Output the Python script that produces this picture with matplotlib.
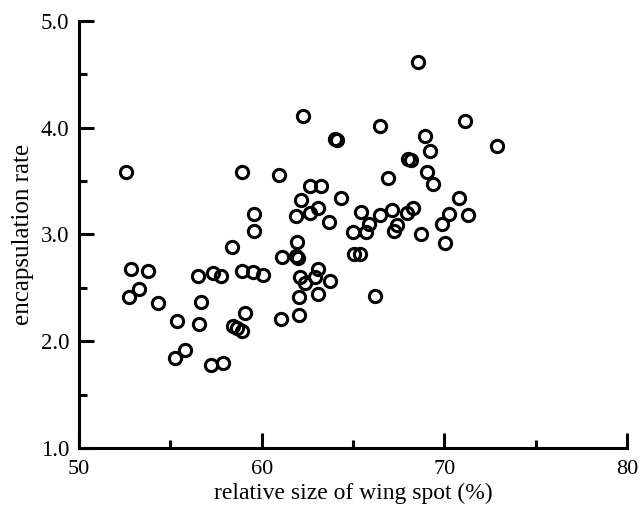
import numpy as np
import matplotlib
matplotlib.use("Agg")
import matplotlib.pyplot as plt
from matplotlib.ticker import MultipleLocator

# relative size of wing spot (%) vs encapsulation rate
spot_size = [
    52.58, 58.9, 60.96, 59.6, 59.6, 58.37, 52.83, 53.76, 56.54, 57.36,
    57.8, 58.9, 59.5, 60.1, 61.1, 53.3, 52.76, 54.35, 56.68, 59.1,
    55.39, 56.55, 58.45, 58.9, 58.65, 61.07, 55.8, 55.26, 57.9, 57.2,
    62.24, 64.0, 64.1, 66.5, 71.15, 68.96, 69.2, 68.0, 68.15, 69.05,
    69.4, 66.9, 62.62, 63.24, 64.34, 70.8, 62.16, 63.1, 62.66, 61.9,
    63.7, 65.44, 66.46, 67.14, 67.95, 68.3, 70.24, 71.3, 69.87, 65.86,
    67.4, 67.23, 65.7, 65.0, 68.74, 70.05, 61.93, 61.98, 61.9, 65.03,
    65.4, 62.1, 62.38, 63.07, 62.9, 63.75, 62.06, 63.1, 66.2, 62.06,
    72.9, 68.58,
]
encaps_rate = [
    3.59, 3.59, 3.555, 3.19, 3.03, 2.88, 2.68, 2.66, 2.61, 2.64,
    2.61, 2.66, 2.65, 2.62, 2.79, 2.49, 2.41, 2.355, 2.365, 2.26,
    2.19, 2.16, 2.14, 2.10, 2.12, 2.21, 1.92, 1.84, 1.80, 1.78,
    4.11, 3.89, 3.885, 4.02, 4.06, 3.92, 3.78, 3.71, 3.70, 3.59,
    3.47, 3.53, 3.45, 3.45, 3.345, 3.34, 3.32, 3.25, 3.20, 3.17,
    3.12, 3.21, 3.18, 3.23, 3.20, 3.245, 3.19, 3.18, 3.10, 3.10,
    3.09, 3.035, 3.02, 3.02, 3.00, 2.92, 2.93, 2.78, 2.80, 2.82,
    2.82, 2.60, 2.55, 2.68, 2.60, 2.565, 2.41, 2.44, 2.42, 2.25,
    3.83, 4.62,
]

plt.rcParams['font.family'] = ['Liberation Serif', 'DejaVu Serif']

fig = plt.figure(figsize=(6.4, 5.11), dpi=100)
ax = fig.add_axes([0.1234, 0.1233, 0.8563, 0.8356])

ax.plot(spot_size, encaps_rate, linestyle='none', marker='o',
        markersize=8.8, markerfacecolor='none', markeredgecolor='black',
        markeredgewidth=2.2)

ax.set_xlim(50, 80)
ax.set_ylim(1.0, 5.0)
ax.xaxis.set_major_locator(MultipleLocator(10))
ax.xaxis.set_minor_locator(MultipleLocator(5))
ax.yaxis.set_major_locator(MultipleLocator(1.0))
ax.yaxis.set_minor_locator(MultipleLocator(0.5))
ax.yaxis.set_major_formatter(plt.FormatStrFormatter('%.1f'))

for side in ['top', 'right']:
    ax.spines[side].set_visible(False)
for side in ['left', 'bottom']:
    ax.spines[side].set_linewidth(2.2)

ax.tick_params(which='major', direction='in', length=11, width=2.2)
ax.tick_params(which='minor', direction='in', length=5.5, width=2.2)
ax.tick_params(axis='x', which='major', labelsize=16, pad=8.5)
ax.tick_params(axis='y', which='major', labelsize=16.5, pad=7)

ax.set_xlabel('relative size of wing spot (%)', fontsize=17, labelpad=3)
ax.set_ylabel('encapsulation rate', fontsize=18, labelpad=5)

fig.savefig('out.png', dpi=100)
